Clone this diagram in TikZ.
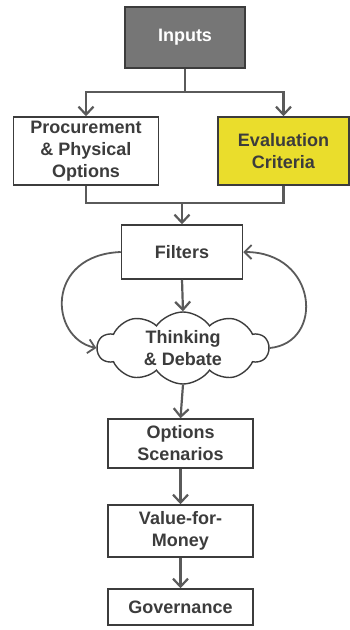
\documentclass[tikz,border=0pt]{standalone}
\usepackage{fontspec}
\setmainfont{Liberation Sans}
\usetikzlibrary{arrows.meta,shapes.symbols}
\definecolor{inkgray}{HTML}{3C3C3C}
\definecolor{wiregray}{HTML}{5A5A5A}
\definecolor{boxgray}{HTML}{767676}
\definecolor{crityellow}{HTML}{EADD2C}
\begin{document}
\begin{tikzpicture}[x=1pt,y=1pt,
  every node/.style={font=\bfseries\fontsize{18}{22}\selectfont, text=inkgray, align=center},
  stepbox/.style={draw=inkgray, line width=1.5pt, fill=white, inner sep=0pt},
  wire/.style={draw=wiregray, line width=2.2pt},
  arr/.style={wire, -{Straight Barb[length=8pt,width=15pt]}},
  loop/.style={draw=wiregray, line width=1.8pt, -{Straight Barb[length=7pt,width=14pt]}},
  thought/.style={cloud, cloud puffs=10, cloud puff arc=110, cloud ignores aspect,
    draw=inkgray, line width=1.4pt, fill=white, inner sep=0pt}]
\useasboundingbox (0,0) rectangle (350,-630);

% boxes
\node[stepbox, fill=boxgray, text=white, minimum width=120, minimum height=61] (inputs) at (185,-37.5) {Inputs};
\node[stepbox, minimum width=145, minimum height=68] (proc) at (86,-151) {Procurement\\\& Physical\\Options};
\node[stepbox, fill=crityellow, minimum width=131, minimum height=68] (eval) at (283.5,-151) {Evaluation\\Criteria};
\node[stepbox, minimum width=121, minimum height=54] (filters) at (182,-252) {Filters};
\node[thought, minimum width=171, minimum height=72] (debate) at (183,-348) {Thinking\\\& Debate};
\node[stepbox, minimum width=145, minimum height=49] (scen) at (180.5,-443.5) {Options\\Scenarios};
\node[stepbox, minimum width=145, minimum height=52] (vfm) at (180.5,-531) {Value-for-\\Money};
\node[stepbox, minimum width=145, minimum height=36] (gov) at (180.5,-607) {Governance};

% split from inputs
\coordinate (split) at (185,-92);
\draw[wire] (inputs.south) -- (split);
\draw[arr] (split) -| (proc.north);
\draw[arr] (split) -| (eval.north);

% merge into filters
\coordinate (join) at (182,-203);
\draw[wire] (proc.south) |- (join);
\draw[wire] (eval.south) |- (join);
\draw[arr] (join) -- (filters.north);

% filters and the debate loop
\draw[arr] (filters.south) -- (debate.north);
\draw[loop] (filters.west) .. controls +(-76,-3) and +(-47,10) .. (debate.west);
\draw[loop] (debate.east) .. controls +(55,5) and +(75,0) .. (filters.east);

% chain below
\draw[arr] (debate.south) -- (scen.north);
\draw[arr] (scen.south) -- (vfm.north);
\draw[arr] (vfm.south) -- (gov.north);
\end{tikzpicture}
\end{document}
